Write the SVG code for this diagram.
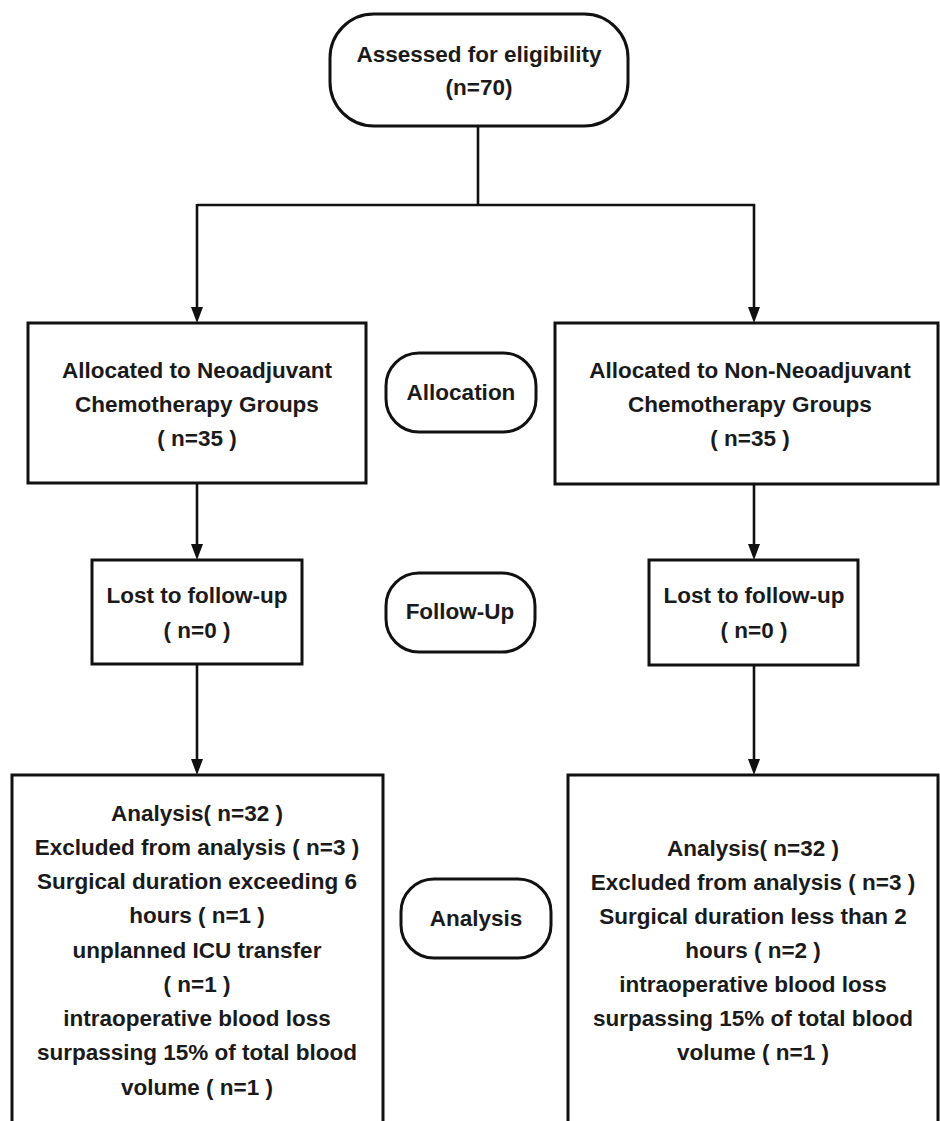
<svg xmlns="http://www.w3.org/2000/svg" width="940" height="1121" viewBox="0 0 940 1121">
<style>
.box{fill:#fff;stroke:#111;stroke-width:3}
.ln{fill:none;stroke:#111;stroke-width:2.6}
text{font-family:"Liberation Sans",Arial,sans-serif;font-weight:bold;font-size:22.5px;fill:#1a1a1a;text-anchor:middle}
</style>
<defs>
<marker id="ah" markerWidth="12" markerHeight="16" refX="6" refY="15" orient="auto-start-reverse" markerUnits="userSpaceOnUse" viewBox="0 0 12 16">
<path d="M0,0 L12,0 L6,16 Z" fill="#111" transform="rotate(0)"/>
</marker>
</defs>
<rect width="940" height="1121" fill="#fff"/>
<g id="connectors">
<path class="ln" d="M478,126 V205 M197,205 H755"/>
<path class="ln" d="M197,204 V307"/>
<path class="ln" d="M754,204 V307"/>
<path class="ln" d="M197,483 V544"/>
<path class="ln" d="M754,485 V544"/>
<path class="ln" d="M197,664 V759"/>
<path class="ln" d="M754,665 V759"/>
<g fill="#111">
<path d="M191,307 L203,307 L197,323 Z"/>
<path d="M748,307 L760,307 L754,323 Z"/>
<path d="M191,544 L203,544 L197,560 Z"/>
<path d="M748,544 L760,544 L754,560 Z"/>
<path d="M191,759 L203,759 L197,775 Z"/>
<path d="M748,759 L760,759 L754,775 Z"/>
</g>
</g>
<g id="assessed">
<rect class="box" x="330" y="14" width="298" height="112" rx="44"/>
<text x="479" y="62">Assessed for eligibility</text>
<text x="479" y="95">(n=70)</text>
</g>
<g id="alloc-left">
<rect class="box" x="28" y="323" width="338" height="160"/>
<text x="197" y="378">Allocated to Neoadjuvant</text>
<text x="197" y="412">Chemotherapy Groups</text>
<text x="197" y="446">( n=35 )</text>
</g>
<g id="allocation">
<rect class="box" x="386" y="353" width="150" height="79" rx="33"/>
<text x="461" y="400">Allocation</text>
</g>
<g id="alloc-right">
<rect class="box" x="555" y="323" width="383" height="161"/>
<text x="750" y="378">Allocated to Non-Neoadjuvant</text>
<text x="750" y="412">Chemotherapy Groups</text>
<text x="750" y="446">( n=35 )</text>
</g>
<g id="lost-left">
<rect class="box" x="92" y="560" width="210" height="104"/>
<text x="197" y="603">Lost to follow-up</text>
<text x="197" y="638">( n=0 )</text>
</g>
<g id="followup">
<rect class="box" x="386" y="573" width="149" height="79" rx="33"/>
<text x="460" y="619">Follow-Up</text>
</g>
<g id="lost-right">
<rect class="box" x="649" y="560" width="209" height="105"/>
<text x="754" y="603">Lost to follow-up</text>
<text x="754" y="638">( n=0 )</text>
</g>
<g id="analysis-left">
<rect class="box" x="12" y="775" width="371" height="360"/>
<text x="197" y="821">Analysis( n=32 )</text>
<text x="197" y="855">Excluded from analysis ( n=3 )</text>
<text x="197" y="889">Surgical duration exceeding 6</text>
<text x="197" y="923">hours ( n=1 )</text>
<text x="197" y="958">unplanned ICU transfer</text>
<text x="197" y="992">( n=1 )</text>
<text x="197" y="1026">intraoperative blood loss</text>
<text x="197" y="1060">surpassing 15% of total blood</text>
<text x="197" y="1095">volume ( n=1 )</text>
</g>
<g id="analysis">
<rect class="box" x="401" y="879" width="150" height="79" rx="33"/>
<text x="476" y="926">Analysis</text>
</g>
<g id="analysis-right">
<rect class="box" x="568" y="775" width="370" height="360"/>
<text x="753" y="856">Analysis( n=32 )</text>
<text x="753" y="890">Excluded from analysis ( n=3 )</text>
<text x="753" y="924">Surgical duration less than 2</text>
<text x="753" y="958">hours ( n=2 )</text>
<text x="753" y="992">intraoperative blood loss</text>
<text x="753" y="1026">surpassing 15% of total blood</text>
<text x="753" y="1060">volume ( n=1 )</text>
</g>
</svg>
